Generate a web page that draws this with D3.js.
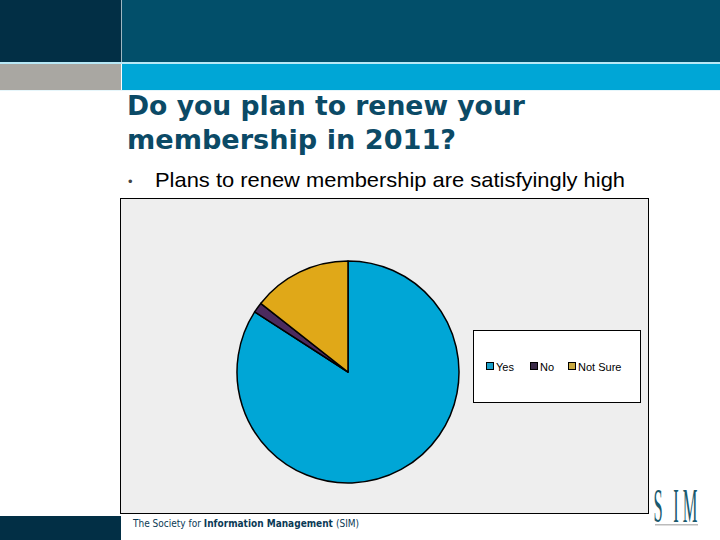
<!DOCTYPE html>
<html><head><meta charset="utf-8">
<script src="https://cdn.jsdelivr.net/npm/d3@7"></script>
<style>body{margin:0;background:#fff;}svg{display:block;}</style>
</head><body>
<svg id="c" width="720" height="540"></svg>
<script>
const categories = ["Yes", "No", "Not Sure"];
const values = [84.1, 1.5, 14.4];
const colors = ["#00a6d6", "#4b2a5e", "#e0a818"];
const legendColors = ["#1a9fc8", "#3a2a48", "#c8a840"];

const svg = d3.select("#c");
// header
svg.append("rect").attr("x",0).attr("y",0).attr("width",720).attr("height",62).attr("fill","#024f6a");
svg.append("rect").attr("x",0).attr("y",0).attr("width",121).attr("height",62).attr("fill","#022f45");
svg.append("rect").attr("x",121).attr("y",0).attr("width",1).attr("height",62).attr("fill","#9fb8c2");
svg.append("rect").attr("x",0).attr("y",62).attr("width",720).attr("height",2).attr("fill","#b8e8f6");
svg.append("rect").attr("x",0).attr("y",64).attr("width",121).attr("height",26).attr("fill","#a9a7a2");
svg.append("rect").attr("x",122).attr("y",64).attr("width",598).attr("height",26).attr("fill","#00a6d6");
svg.append("rect").attr("x",0).attr("y",90).attr("width",720).attr("height",1).attr("fill","#e6f6fb");

// title
const tAttrs = t => t.attr("fill","#0b4a66").attr("font-family","DejaVu Sans, Verdana, sans-serif")
  .attr("font-weight","bold").attr("font-size",26).attr("lengthAdjust","spacingAndGlyphs");
tAttrs(svg.append("text")).attr("x",127).attr("y",115).attr("textLength",398).text("Do you plan to renew your");
tAttrs(svg.append("text")).attr("x",127).attr("y",149).attr("textLength",329).text("membership in 2011?");
svg.append("text").attr("x",128).attr("y",186).attr("font-family","Liberation Sans, Arial, sans-serif")
  .attr("font-size",13).attr("fill","#444").text("•");
svg.append("text").attr("x",155).attr("y",187).attr("font-family","Liberation Sans, Arial, sans-serif")
  .attr("font-size",21).attr("fill","#000").attr("textLength",470).attr("lengthAdjust","spacingAndGlyphs")
  .text("Plans to renew membership are satisfyingly high");

// chart frame
svg.append("rect").attr("x",120.5).attr("y",198.5).attr("width",528).attr("height",315)
  .attr("fill","#eeeeee").attr("stroke","#000").attr("stroke-width",1);

// pie
const pie = d3.pie().sort(null).value(d=>d)(values);
const arc = d3.arc().innerRadius(0).outerRadius(111);
const g = svg.append("g").attr("transform","translate(348,372)");
g.selectAll("path").data(pie).join("path")
  .attr("d",arc).attr("fill",(d,i)=>colors[i]).attr("stroke","#000").attr("stroke-width",1.5).attr("stroke-linejoin","round");

// legend
svg.append("rect").attr("x",473.5).attr("y",330.5).attr("width",167).attr("height",72)
  .attr("fill","#fff").attr("stroke","#000").attr("stroke-width",1);
const lx = [486, 530, 568];
const lg = svg.append("g");
categories.forEach((c,i)=>{
  lg.append("rect").attr("x",lx[i]+0.5).attr("y",362.5).attr("width",7).attr("height",7)
    .attr("fill",legendColors[i]).attr("stroke","#000").attr("stroke-width",1);
  lg.append("text").attr("x",lx[i]+10).attr("y",370.5).attr("font-family","Liberation Sans, Arial, sans-serif")
    .attr("font-size",11).attr("fill","#000").text(c);
});

// footer
svg.append("rect").attr("x",0).attr("y",516).attr("width",121).attr("height",24).attr("fill","#022f45");
const footParts = [["The Society for", "normal"], ["Information Management", "bold"], ["(SIM)", "normal"]];
let fx = 133;
footParts.forEach(([s, w]) => {
  const t = svg.append("text").attr("x", fx).attr("y", 527)
    .attr("font-family","DejaVu Sans Condensed, DejaVu Sans, sans-serif")
    .attr("font-size",10).attr("font-weight", w).attr("fill","#0b3a55").text(s);
  fx += t.node().getComputedTextLength() + 3;
});

const logo = svg.append("g").attr("fill","#1a5a6e").attr("font-family","Liberation Serif, serif");
[["S",658],["I",676],["M",690]].forEach(([ch,x])=>{
  logo.append("text").attr("text-anchor","middle")
    .attr("transform",`translate(${x},522) scale(0.5,1.45)`)
    .attr("font-size",33).text(ch);
});
svg.append("rect").attr("x",655).attr("y",524).attr("width",43).attr("height",1.5).attr("fill","#bbbbbb");
</script>
</body></html>
